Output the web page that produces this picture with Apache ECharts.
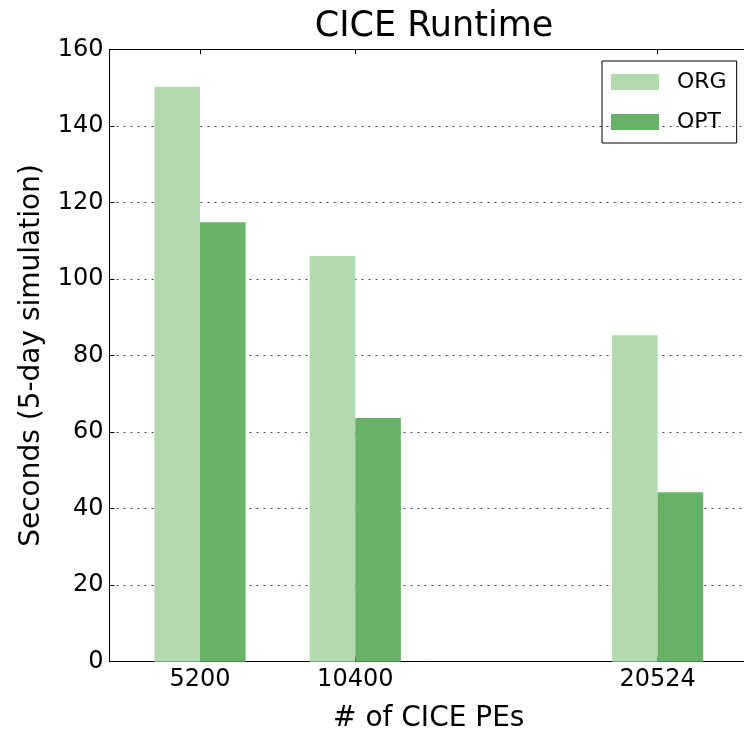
<!DOCTYPE html>
<html>
<head>
<meta charset="utf-8">
<script src="https://cdn.jsdelivr.net/npm/echarts@6/dist/echarts.min.js"></script>
<style>
  html, body { margin: 0; padding: 0; background: #fff; }
  #chart { width: 744px; height: 730px; }
</style>
</head>
<body>
<div id="chart"></div>
<script>
// 数据
const peCounts = [5200, 10400, 20524];
const orgSeconds = [150.2, 106.0, 85.3];
const optSeconds = [114.8, 63.7, 44.3];
const yTicks = [0, 20, 40, 60, 80, 100, 120, 140, 160];
const barWidthUnits = 1527;

const font = 'DejaVu Sans';
const myChart = echarts.init(document.getElementById('chart'));

// ORG 在刻度左侧，OPT 在刻度右侧
const makeBars = (side) => (params, api) => {
  const x = api.value(0);
  const y = api.value(1);
  const x0 = side < 0 ? x - barWidthUnits : x;
  const topLeft = api.coord([x0, y]);
  const base = api.coord([x0, 0]);
  const w = api.size([barWidthUnits, 0])[0];
  return {
    type: 'rect',
    shape: { x: topLeft[0], y: topLeft[1], width: w, height: base[1] - topLeft[1] },
    style: { fill: api.visual('color') }
  };
};

const option = {
  animation: false,
  title: {
    text: 'CICE Runtime',
    left: 429,
    top: 4,
    textAlign: 'center',
    textStyle: { fontFamily: font, fontSize: 35, fontWeight: 'normal', color: '#000' }
  },
  legend: {
    data: ['ORG', 'OPT'],
    orient: 'vertical',
    left: 602,
    top: 61,
    icon: 'rect',
    itemWidth: 48,
    itemHeight: 16,
    itemGap: 18,
    padding: [10, 10, 10, 9],
    borderColor: '#000',
    borderWidth: 1,
    textStyle: { fontFamily: font, fontSize: 22, color: '#000', padding: [0, 0, 0, 13] }
  },
  grid: {
    left: 109.5,
    right: -4,
    top: 49.3,
    bottom: 68.3,
    outerBoundsMode: 'none',
    show: false
  },
  xAxis: [
    {
      type: 'value',
      min: 2170,
      max: 23550,
      name: '# of CICE PEs',
      nameLocation: 'middle',
      nameGap: 43,
      nameTextStyle: { fontFamily: font, fontSize: 28, color: '#000' },
      axisLine: { show: true, lineStyle: { color: '#000', width: 1 } },
      axisTick: { show: true, inside: true, length: 5, customValues: peCounts, lineStyle: { color: '#000' } },
      axisLabel: { customValues: peCounts, fontFamily: font, fontSize: 24, color: '#000', margin: 6,
        formatter: (v) => String(v) },
      splitLine: { show: false }
    },
    {
      type: 'value',
      position: 'top',
      min: 2170,
      max: 23550,
      axisLine: { show: true, lineStyle: { color: '#000', width: 1 } },
      axisTick: { show: true, inside: true, length: 5, customValues: peCounts, lineStyle: { color: '#000' } },
      axisLabel: { show: false },
      splitLine: { show: false }
    }
  ],
  yAxis: {
    type: 'value',
    min: 0,
    max: 160,
    interval: 20,
    name: 'Seconds (5-day simulation)',
    nameLocation: 'middle',
    nameGap: 64,
    nameTextStyle: { fontFamily: font, fontSize: 28, color: '#000' },
    axisLine: { show: true, lineStyle: { color: '#000', width: 1 } },
    axisTick: { show: true, inside: true, length: 5, lineStyle: { color: '#000' } },
    axisLabel: { fontFamily: font, fontSize: 24, color: '#000', margin: 6,
      formatter: (v) => yTicks.includes(v) ? String(v) : '' },
    splitLine: { show: true, lineStyle: { color: '#444', type: [2, 5], width: 1 } }
  },
  series: [
    {
      name: 'ORG',
      type: 'custom',
      itemStyle: { color: '#b2d9b0' },
      renderItem: makeBars(-1),
      encode: { x: 0, y: 1 },
      data: peCounts.map((p, i) => [p, orgSeconds[i]]),
      z: 1
    },
    {
      name: 'OPT',
      type: 'custom',
      itemStyle: { color: '#67b267' },
      renderItem: makeBars(1),
      encode: { x: 0, y: 1 },
      data: peCounts.map((p, i) => [p, optSeconds[i]]),
      z: 1
    }
  ]
};

myChart.setOption(option);
</script>
</body>
</html>
